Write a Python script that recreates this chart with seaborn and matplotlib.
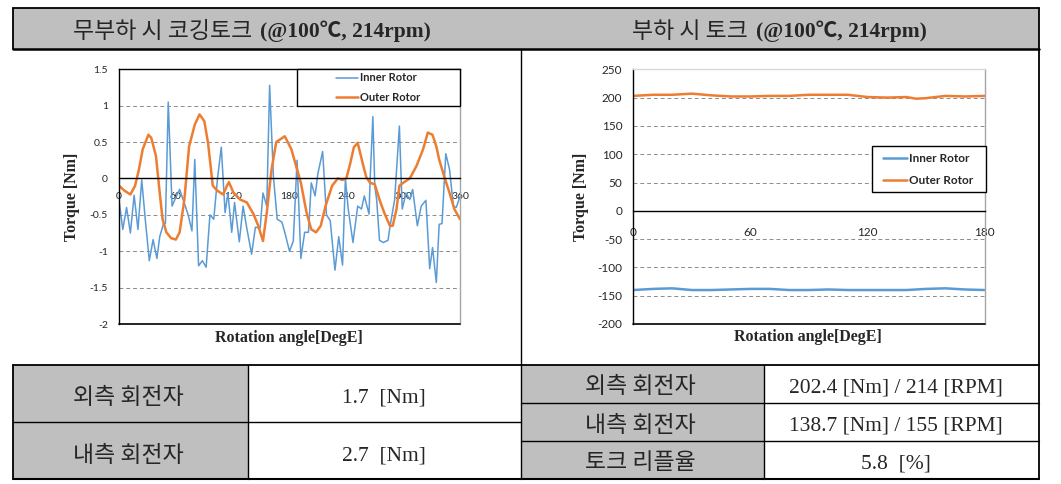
import matplotlib
matplotlib.use('Agg')
import matplotlib.pyplot as plt
import seaborn as sns
import pandas as pd
from matplotlib.patches import Rectangle
from matplotlib.lines import Line2D
from matplotlib.font_manager import FontProperties

# ---------------- data ----------------
inner_deg = [0, 4, 8, 12, 16, 20, 24, 28, 32, 36, 40, 43, 47, 49, 52, 56, 59, 64, 70, 73, 77, 80,
             84, 88, 92, 96, 100, 104, 108, 112, 115, 119, 122, 127, 131, 135, 140, 144, 149, 152,
             156, 159, 163, 167, 172, 175, 180, 184, 188, 192, 196, 200, 203, 207, 210, 215, 219,
             223, 228, 232, 236, 239, 242, 247, 252, 256, 259, 264, 265, 268, 270, 272, 275, 279,
             284, 286, 291, 296, 299, 303, 307, 310, 315, 319, 324, 328, 331, 335, 338, 341, 345,
             349, 353, 356, 360]
inner_val = [-0.3, -0.7, -0.4, -0.75, -0.23, -0.7, -0.02, -0.6, -1.13, -0.84, -1.1, -0.8, -0.62,
             -0.62, 1.05, -0.38, -0.29, -0.15, -0.38, -0.5, -0.72, 0.26, -1.2, -1.13, -1.22, -0.5,
             -0.56, 0.0, 0.43, -0.47, -0.2, -0.74, -0.33, -0.87, -0.38, -0.69, -1.04, -0.67, -0.68,
             -0.2, -0.38, 1.28, 0.03, -0.56, -0.6, -0.74, -1.0, -0.86, 0.25, -1.1, -0.74, -0.74,
             -0.06, -0.24, 0.07, 0.37, -0.5, -0.58, -1.26, -0.8, -1.19, 0.0, -0.42, -0.88, -0.38,
             -0.42, -0.24, -0.49, -0.05, 0.85, -0.1, -0.29, -0.85, -0.88, -0.85, -0.67, -0.29, 0.72,
             -0.42, -0.2, -0.29, -0.15, -0.65, -0.38, -0.3, -1.24, -0.95, -1.43, -0.63, -0.62, 0.34,
             0.12, -0.38, -0.4, -0.25]

outer_deg = [0, 6, 12, 17, 21, 25, 31, 34, 39, 43, 46, 50, 55, 60, 64, 69, 74, 80, 85, 90, 94,
             99, 104, 110, 114, 116, 121, 128, 135, 142, 147, 152, 156, 161, 166, 175, 182, 187,
             192, 198, 203, 208, 213, 218, 225, 231, 236, 240, 244, 248, 252, 258, 261, 265, 270,
             275, 280, 286, 289, 293, 296, 300, 307, 314, 321, 326, 331, 335, 338, 344, 349, 354,
             360]
outer_val = [-0.1, -0.17, -0.22, -0.1, 0.12, 0.4, 0.6, 0.56, 0.31, -0.2, -0.56, -0.74, -0.82,
             -0.84, -0.74, -0.29, 0.44, 0.74, 0.88, 0.79, 0.49, -0.1, -0.17, -0.22, -0.1, -0.05,
             -0.2, -0.29, -0.33, -0.49, -0.65, -0.86, -0.47, 0.12, 0.5, 0.58, 0.4, 0.17, -0.06,
             -0.47, -0.7, -0.74, -0.65, -0.38, -0.1, 0.0, -0.02, 0.0, 0.2, 0.43, 0.49, 0.17, 0.02,
             -0.06, -0.08, -0.29, -0.47, -0.65, -0.65, -0.42, -0.1, -0.06, 0.0, 0.17, 0.4, 0.63,
             0.6, 0.44, 0.26, 0.0, -0.2, -0.42, -0.56]

load_deg = [0, 10, 20, 30, 40, 50, 60, 70, 80, 90, 100, 110, 120, 130, 140, 145, 150, 160, 170, 180]
load_outer = [203, 205, 205, 207, 204, 202, 202, 203, 203, 205, 205, 205, 201, 200, 201, 198, 199,
              203, 202, 203]
load_inner = [-140, -138, -137, -140, -140, -139, -138, -138, -140, -140, -139, -140, -140, -140,
              -140, -139, -138, -137, -139, -140]

left_yticks = [1.5, 1, 0.5, 0, -0.5, -1, -1.5, -2]
left_ytick_labels = ['1.5', '1', '0.5', '0', '-0.5', '-1', '-1.5', '-2']
left_xticks = [0, 60, 120, 180, 240, 300, 360]
right_yticks = [250, 200, 150, 100, 50, 0, -50, -100, -150, -200]
right_xticks = [0, 60, 120, 180]
series_names = ['Inner Rotor', 'Outer Rotor']

header_left = ('무부하 시 코깅토크', '(@100℃, 214rpm)')
header_right = ('부하 시 토크', '(@100℃, 214rpm)')
left_rows = [('외측 회전자', '1.7  [Nm]'), ('내측 회전자', '2.7  [Nm]')]
right_rows = [('외측 회전자', '202.4 [Nm] / 214 [RPM]'), ('내측 회전자', '138.7 [Nm] / 155 [RPM]'),
              ('토크 리플율', '5.8  [%]')]

# ---------------- style ----------------
sns.set_style('white')
plt.rcParams['font.family'] = ['Lato', 'DejaVu Sans']
plt.rcParams['axes.unicode_minus'] = False

BLUE = '#5B9BD5'
ORANGE = '#ED7D31'
GRAY = '#bfbfbf'
GRID = '#8c8c8c'

W, H = 1061, 484
fig = plt.figure(figsize=(W / 100, H / 100), dpi=100)


def fx(x):
    return x / W


def fy(y):
    return 1 - y / H


def rect(x0, y0, x1, y1, fc, ec='none', lw=0, z=0):
    fig.add_artist(Rectangle((fx(x0), fy(y1)), fx(x1) - fx(x0), fy(y0) - fy(y1),
                             transform=fig.transFigure, facecolor=fc, edgecolor=ec, lw=lw, zorder=z))


def hline(x0, x1, y, lw=1.3, c='black'):
    fig.add_artist(Line2D([fx(x0), fx(x1)], [fy(y), fy(y)], transform=fig.transFigure,
                          color=c, lw=lw, zorder=3))


def vline(x, y0, y1, lw=1.3, c='black'):
    fig.add_artist(Line2D([fx(x), fx(x)], [fy(y0), fy(y1)], transform=fig.transFigure,
                          color=c, lw=lw, zorder=3))


# ---------------- table frame ----------------
L, R, MID = 13, 1039, 521
rect(L, 8, R, 49, GRAY)
rect(L, 364.5, 248, 479, GRAY)
rect(MID, 364.5, 764, 479, GRAY)
hline(L, R, 8, lw=1.3)
hline(L, R, 49, lw=1.8)
hline(L, R, 364.5, lw=1.3)
hline(L, R, 479, lw=1.5)
hline(L, MID, 421.7, lw=1.0)
hline(MID, R, 402.7, lw=1.0)
hline(MID, R, 441, lw=1.0)
vline(L, 8, 49)
vline(L, 364.5, 479)
vline(R, 8, 479)
vline(MID, 49, 479, lw=1.0)
vline(248, 364.5, 479, lw=1.0)
vline(764, 364.5, 479, lw=1.0)

KR = FontProperties(family=['Noto Sans CJK KR', 'DejaVu Sans'], size=16.5)
SERIF_B = FontProperties(family=['Liberation Serif', 'Noto Sans CJK KR'], weight='bold', size=15.5)
SERIF = FontProperties(family=['Liberation Serif', 'Noto Sans CJK KR'], size=15.5)

fig.canvas.draw()
renderer = fig.canvas.get_renderer()


def mixed(cx, base, parts, gap=8):
    texts = [fig.text(0, fy(base), s, fontproperties=fp, ha='left', va='baseline', zorder=5)
             for s, fp in parts]
    widths = [t.get_window_extent(renderer).width for t in texts]
    x = cx - (sum(widths) + gap * (len(texts) - 1)) / 2
    for t, w in zip(texts, widths):
        t.set_x(fx(x))
        x += w + gap


mixed(252, 37.5, [(header_left[0], KR), (header_left[1], SERIF_B)])
mixed(779, 37.5, [(header_right[0], KR), (header_right[1], SERIF_B)])

for (k, v), base in zip(left_rows, [403, 461]):
    fig.text(fx(128), fy(base + 1), k, fontproperties=KR, ha='center', va='baseline', zorder=5)
    fig.text(fx(384), fy(base), v, fontproperties=SERIF, ha='center', va='baseline', zorder=5)
for (k, v), base in zip(right_rows, [392, 431, 468]):
    fig.text(fx(640), fy(base + 1), k, fontproperties=KR, ha='center', va='baseline', zorder=5)
    fig.text(fx(896), fy(base), v, fontproperties=SERIF, ha='center', va='baseline', zorder=5)

# ---------------- charts ----------------
LBL = FontProperties(family=['Liberation Serif'], weight='bold', size=11.5)
LEG = FontProperties(family=['Lato'], weight='bold', size=8)


def make_axes(x0, x1, y0, y1):
    return fig.add_axes([fx(x0), fy(y1), fx(x1) - fx(x0), fy(y0) - fy(y1)])


def to_axes(ax_box, px, py):
    x0, x1, y0, y1 = ax_box
    return (px - x0) / (x1 - x0), (y1 - py) / (y1 - y0)


def style_axes(ax, ylim, yticks, ylabels, xticks, xlim, grid_vals, top_color, tick_size, xpad):
    ax.set_xlim(*xlim)
    ax.set_ylim(*ylim)
    ax.set_yticks(yticks)
    ax.set_yticklabels(ylabels)
    ax.set_xticks(xticks)
    ax.set_xticklabels([str(t) for t in xticks])
    ax.spines['bottom'].set_position(('data', 0))
    ax.spines['bottom'].set_color('black')
    ax.spines['bottom'].set_linewidth(1.0)
    ax.spines['left'].set_color('black')
    ax.spines['left'].set_linewidth(1.0)
    ax.spines['top'].set_color(top_color)
    ax.spines['right'].set_color('#a6a6a6')
    ax.spines['top'].set_linewidth(1.0)
    ax.spines['right'].set_linewidth(1.0)
    ax.axhline(ylim[0], color='black', lw=1.2, clip_on=False, zorder=3)
    for v in grid_vals:
        ax.axhline(v, color=GRID, lw=0.7, ls=(0, (4, 3)), zorder=0.5)
    ax.tick_params(axis='y', length=0, pad=8, labelsize=tick_size, colors='#262626')
    ax.tick_params(axis='x', direction='inout', length=7, width=0.8, pad=xpad,
                   labelsize=tick_size, colors='#262626')
    ax.set_xlabel('')
    ax.set_ylabel('')


# left chart
box1 = (119, 460, 69.3, 324)
ax1 = make_axes(*box1)
df1 = pd.DataFrame({'deg': inner_deg, 'val': inner_val})
df2 = pd.DataFrame({'deg': outer_deg, 'val': outer_val})
sns.lineplot(data=df1, x='deg', y='val', ax=ax1, color=BLUE, lw=1.1, label=series_names[0], zorder=2)
sns.lineplot(data=df2, x='deg', y='val', ax=ax1, color=ORANGE, lw=1.8, label=series_names[1], zorder=2.2)
style_axes(ax1, (-2, 1.5), left_yticks, left_ytick_labels, left_xticks, (0, 360),
           [1, 0.5, -0.5, -1, -1.5], 'black', 7.5, 6)
bx, by = to_axes(box1, 297, 106)
bx2, by2 = to_axes(box1, 460, 69.3)
ax1.add_patch(Rectangle((bx, by), bx2 - bx, by2 - by, transform=ax1.transAxes, fc='white',
                        ec='black', lw=1.0, zorder=4, clip_on=False))
cx, cy = to_axes(box1, 378, 87.6)
ax1.legend(loc='center', bbox_to_anchor=(cx, cy), frameon=False, prop=LEG, handlelength=2.0,
           handletextpad=0.2, labelspacing=0.75, borderpad=0.2).set_zorder(5)

fig.text(fx(71.7), fy(196.5), 'Torque [Nm]', rotation=90, ha='center', va='center', fontproperties=LBL)
fig.text(fx(289), fy(338), 'Rotation angle[DegE]', ha='center', va='center', fontproperties=LBL)

# right chart
box2 = (633.3, 984.5, 69.3, 324)
ax2 = make_axes(*box2)
df3 = pd.DataFrame({'deg': load_deg, 'val': load_inner})
df4 = pd.DataFrame({'deg': load_deg, 'val': load_outer})
sns.lineplot(data=df3, x='deg', y='val', ax=ax2, color=BLUE, lw=1.8, label=series_names[0], zorder=2)
sns.lineplot(data=df4, x='deg', y='val', ax=ax2, color=ORANGE, lw=1.8, label=series_names[1], zorder=2)
style_axes(ax2, (-200, 250), right_yticks, [str(t) for t in right_yticks], right_xticks, (0, 180),
           [200, 150, 100, 50, -50, -100, -150], '#d9d9d9', 8.5, 8)
bx, by = to_axes(box2, 871.7, 191.7)
bx2, by2 = to_axes(box2, 985.7, 145.7)
ax2.add_patch(Rectangle((bx, by), bx2 - bx, by2 - by, transform=ax2.transAxes, fc='white',
                        ec='black', lw=1.0, zorder=4, clip_on=False))
cx, cy = to_axes(box2, 928, 169.7)
ax2.legend(loc='center', bbox_to_anchor=(cx, cy), frameon=False,
           prop=FontProperties(family=['Lato'], weight='bold', size=8.5), handlelength=2.0,
           handletextpad=0.2, labelspacing=0.9, borderpad=0.2).set_zorder(5)

fig.text(fx(581), fy(196.5), 'Torque [Nm]', rotation=90, ha='center', va='center', fontproperties=LBL)
fig.text(fx(808), fy(337), 'Rotation angle[DegE]', ha='center', va='center', fontproperties=LBL)

fig.savefig('out.png', dpi=100)
